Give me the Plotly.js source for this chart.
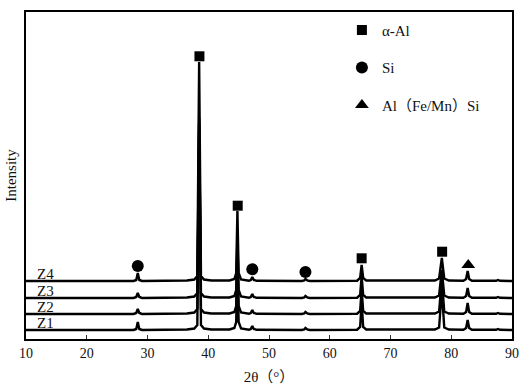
<!DOCTYPE html>
<html><head><meta charset="utf-8">
<script src="https://cdn.plot.ly/plotly-3.0.1.min.js"></script>
<style>html,body{margin:0;padding:0;background:#fff}</style>
</head><body><div id="chart" style="width:526px;height:386px"></div>
<script>
// 2θ sample positions (deg)
const twoTheta = [10,27.7,28.15,28.4,28.65,29.1,36.5,37.7,38.2,38.5,38.8,39.3,40.5,41.7,41.85,42.0,43.5,44.3,44.6,44.8,45.0,45.4,46.7,47.0,47.25,47.5,48.0,55.4,55.8,56.0,56.3,56.7,64.5,65.0,65.25,65.5,66.0,77.3,78.0,78.45,78.85,79.6,82.0,82.45,82.7,82.95,83.4,87.4,87.7,88.0,90];
// intensities (a.u.) above each pattern's own baseline
const Z1 = [0,0,1,8,1,0,0.5,1.5,5,200,5,1.5,0.5,0.3,1,0.3,0.5,2,8,75,8,1.5,0.3,1,4,1,0.2,0,0.5,2,0.5,0,0.3,3,28,3,0.5,0.5,2.5,40,2.5,0.5,0.3,2,10,2,0.3,0.2,1,0.2,0];
const Z2 = [0,0,1,5,1,0,0.5,1.5,5,190,5,1.5,0.5,0.3,1,0.3,0.5,2,8,70,8,1.5,0.3,1,4,1,0.2,0,0.5,2,0.5,0,0.3,3,25,3,0.5,0.5,2.5,35,2.5,0.5,0.3,2,11,2,0.3,0.2,1,0.2,0];
const Z3 = [0,0,1,5,1,0,0.5,1.5,5,180,5,1.5,0.5,0.3,1,0.3,0.5,2,8,60,8,1.5,0.3,1,4,1,0.2,0,0.5,2,0.5,0,0.3,3,22,3,0.5,0.5,2.5,28,2.5,0.5,0.3,2,10,2,0.3,0.2,1,0.2,0];
const Z4 = [0,0,1,8,1,0,0.5,1.5,5,219,5,1.5,0.5,0.3,1,0.3,0.5,2,8,70,8,1.5,0.3,1,4,1,0.2,0,0.5,2,0.5,0,0.3,3,16,3,0.5,0.5,2.5,23,2.5,0.5,0.3,2,10,2,0.3,0.2,1,0.2,0];
const seriesNames = ["Z1","Z2","Z3","Z4"];
const seriesValues = [Z1,Z2,Z3,Z4];
const offsets = [9,25,41,58];
// phase identification markers
const alAlX = [38.55,44.85,65.25,78.5];
const alAlY = [282.7,133.3,80.7,87.3];
const siX = [28.4,47.25,56.0];
const siY = [73,69.7,67];
const afmX = [82.8];
const afmY = [74];
const phaseNames = ["α-Al","Si","Al（Fe/Mn）Si"];
const xTicks = [10,20,30,40,50,60,70,80,90];

const FONT = "'Liberation Serif', 'Noto Sans CJK SC', serif";
const traces = [];
seriesValues.forEach((vals,i)=>{
  traces.push({x:twoTheta, y:vals.map(v=>v+offsets[i]), mode:'lines', type:'scatter',
    line:{color:'#000', width:2.4}, showlegend:false, hoverinfo:'skip'});
});
traces.push({x:alAlX,y:alAlY,mode:'markers',type:'scatter',name:phaseNames[0],legendgroup:'a',
  marker:{symbol:'square',size:10,color:'#000'}});
traces.push({x:siX,y:siY,mode:'markers',type:'scatter',name:phaseNames[1],legendgroup:'b',
  marker:{symbol:'circle',size:12,color:'#000'}});
traces.push({x:afmX,y:afmY,mode:'markers',type:'scatter',name:phaseNames[2],legendgroup:'c',
  marker:{symbol:'triangle-up',size:12,color:'#000'}});

const annotations = seriesNames.map((n,i)=>({x:11.5,y:offsets[i]+7,xref:'x',yref:'y',text:n,showarrow:false,
  xanchor:'left',yanchor:'middle',font:{family:FONT,size:15,color:'#111'}}));

const layout = {
  width:526,height:386,margin:{l:26,r:14,t:12,b:47},
  paper_bgcolor:'#fff',plot_bgcolor:'#fff',
  font:{family:FONT,color:'#111'},
  xaxis:{range:[10,90],tickvals:xTicks,ticks:'inside',ticklen:4,tickwidth:1,tickcolor:'#333',
    showline:true,linecolor:'#000',linewidth:2,mirror:true,showgrid:false,zeroline:false,
    tickfont:{family:FONT,size:14,color:'#111'},
    title:{text:'2θ（°）',font:{family:FONT,size:15,color:'#111'},standoff:12}},
  yaxis:{range:[0,327],showticklabels:false,ticks:'',showline:true,linecolor:'#000',linewidth:2,mirror:true,
    showgrid:false,zeroline:false,
    title:{text:'Intensity',font:{family:FONT,size:15,color:'#111'},standoff:4}},
  showlegend:true,
  legend:{x:0.65,y:0.995,xanchor:'left',yanchor:'top',bgcolor:'rgba(0,0,0,0)',
    font:{family:FONT,size:15,color:'#111'},tracegroupgap:15,itemclick:false},
  annotations:annotations
};
Plotly.newPlot('chart',traces,layout,{staticPlot:true});
</script></body></html>
